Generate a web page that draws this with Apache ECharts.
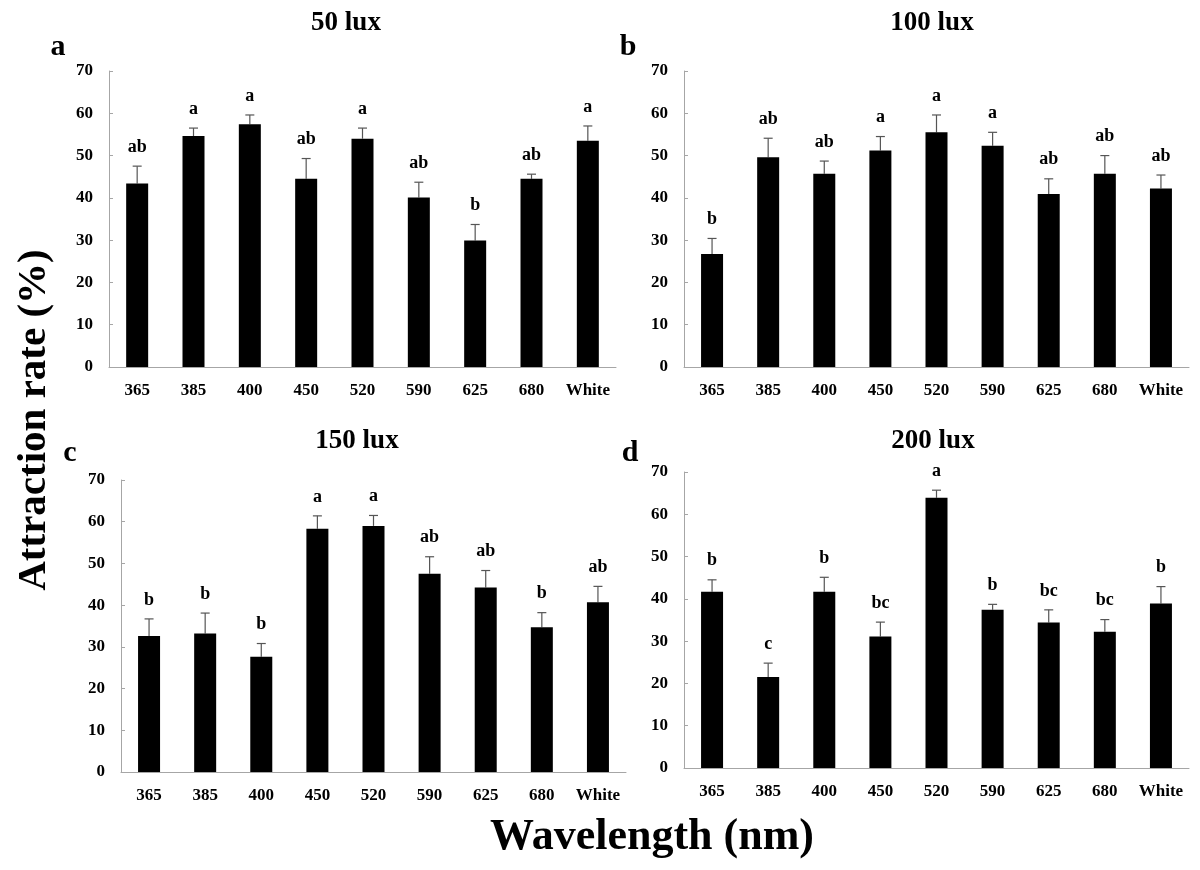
<!DOCTYPE html>
<html>
<head>
<meta charset="utf-8">
<script src="https://cdn.jsdelivr.net/npm/echarts@6/dist/echarts.min.js"></script>
<style>html,body{margin:0;padding:0;background:#fff}#c{width:1200px;height:870px}</style>
</head>
<body>
<div id="c"></div>
<script>
var categories = ['365','385','400','450','520','590','625','680','White'];
var yTicks = [0,10,20,30,40,50,60,70];

var titles = ['50 lux','100 lux','150 lux','200 lux'];
var panelLetters = ['a','b','c','d'];

var meansA = [43.4, 54.6, 57.4, 44.5, 54.0, 40.1, 29.9, 44.5, 53.5];
var errA   = [4.1, 1.9, 2.2, 4.8, 2.5, 3.6, 3.8, 1.1, 3.5];
var sigA   = ['ab','a','a','ab','a','ab','b','ab','a'];

var meansB = [26.7, 49.6, 45.7, 51.2, 55.5, 52.3, 40.9, 45.7, 42.2];
var errB   = [3.7, 4.5, 3.0, 3.3, 4.1, 3.2, 3.6, 4.3, 3.2];
var sigB   = ['b','ab','ab','a','a','a','ab','ab','ab'];

var meansC = [32.6, 33.2, 27.6, 58.3, 59.0, 47.5, 44.2, 34.7, 40.7];
var errC   = [4.1, 4.9, 3.2, 3.1, 2.5, 4.1, 4.1, 3.5, 3.8];
var sigC   = ['b','b','b','a','a','ab','ab','b','ab'];

var meansD = [41.7, 21.5, 41.7, 31.1, 63.9, 37.4, 34.4, 32.2, 38.9];
var errD   = [2.8, 3.3, 3.4, 3.4, 1.8, 1.3, 3.0, 2.9, 4.0];
var sigD   = ['b','c','b','bc','a','b','bc','bc','b'];

var panels = [
  {m: meansA, e: errA, s: sigA},
  {m: meansB, e: errB, s: sigB},
  {m: meansC, e: errC, s: sigC},
  {m: meansD, e: errD, s: sigD}
];

var FONT = '"Liberation Serif", "Times New Roman", serif';
var grids = [
  {left:109, top:71, width:507, height:296},
  {left:684, top:71, width:505, height:296},
  {left:121, top:480, width:505, height:292},
  {left:684, top:472, width:505, height:296}
];
var titlePos = [[346,23],[932,23],[357,441],[933,441]];
var letterPos = [[58,47],[628,47],[70,453],[630,453]];

var xAxes = [], yAxes = [], series = [], graphics = [];
panels.forEach(function(p, i){
  xAxes.push({
    type:'category', gridIndex:i, data:categories,
    axisLine:{lineStyle:{color:'#a6a6a6', width:1}},
    axisTick:{show:false},
    axisLabel:{color:'#000', fontFamily:FONT, fontWeight:'bold', fontSize:17, margin:15, interval:0}
  });
  yAxes.push({
    type:'value', gridIndex:i, min:yTicks[0], max:yTicks[yTicks.length-1], interval:10,
    axisLine:{show:true, lineStyle:{color:'#a6a6a6', width:1}},
    axisTick:{show:true, inside:true, length:4, lineStyle:{color:'#a6a6a6'}},
    splitLine:{show:false},
    axisLabel:{color:'#000', fontFamily:FONT, fontWeight:'bold', fontSize:17, margin:16}
  });
  series.push({
    type:'bar', xAxisIndex:i, yAxisIndex:i, data:p.m, barWidth:22,
    itemStyle:{color:'#000'}, silent:true, animation:false
  });
  var ed = p.m.map(function(v, k){ return [k, v, v + p.e[k], p.s[k]]; });
  series.push({
    type:'custom', xAxisIndex:i, yAxisIndex:i, data:ed, animation:false, silent:true,
    encode:{x:0, y:[1,2]},
    renderItem:function(params, api){
      var x = api.value(0);
      var lo = api.coord([x, api.value(1)]);
      var hi = api.coord([x, api.value(2)]);
      var sig = ed[params.dataIndex][3];
      var cap = 4.5;
      return {type:'group', children:[
        {type:'line', shape:{x1:lo[0], y1:lo[1], x2:hi[0], y2:hi[1]}, style:{stroke:'#555', lineWidth:1.2}},
        {type:'line', shape:{x1:hi[0]-cap, y1:hi[1], x2:hi[0]+cap, y2:hi[1]}, style:{stroke:'#555', lineWidth:1.2}},
        {type:'text', x:hi[0], y:hi[1]-10, style:{text:sig, fill:'#000', font:'bold 18px ' + FONT, textAlign:'center', textVerticalAlign:'bottom'}}
      ]};
    }
  });
  graphics.push({type:'text', x:titlePos[i][0], y:titlePos[i][1],
    style:{text:titles[i], fill:'#000', font:'bold 27px ' + FONT, textAlign:'center', textVerticalAlign:'middle'}});
  graphics.push({type:'text', x:letterPos[i][0], y:letterPos[i][1],
    style:{text:panelLetters[i], fill:'#000', font:'bold 30px ' + FONT, textAlign:'center', textVerticalAlign:'middle'}});
});

graphics.push({type:'text', x:34, y:420, rotation:Math.PI/2,
  style:{text:'Attraction rate (%)', fill:'#000', font:'bold 41px ' + FONT, textAlign:'center', textVerticalAlign:'middle'}});
graphics.push({type:'text', x:652, y:838,
  style:{text:'Wavelength (nm)', fill:'#000', font:'bold 44px ' + FONT, textAlign:'center', textVerticalAlign:'middle'}});

var chart = echarts.init(document.getElementById('c'), null, {renderer:'canvas'});
chart.setOption({
  animation:false,
  backgroundColor:'#fff',
  grid:grids,
  xAxis:xAxes,
  yAxis:yAxes,
  series:series,
  graphic:graphics
});
</script>
</body>
</html>
